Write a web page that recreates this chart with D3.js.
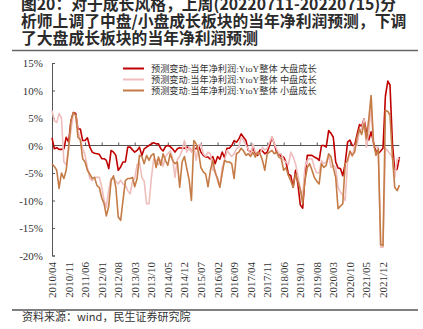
<!DOCTYPE html>
<html>
<head>
<meta charset="utf-8">
<script src="https://cdn.jsdelivr.net/npm/d3@7"></script>
<style>
  html, body { margin: 0; padding: 0; background: #fff; }
  svg { display: block; }
</style>
</head>
<body>
<svg id="chart" width="423" height="329"></svg>
<script>
// Monthly series, first point 2010/04
const startMonth = "2010/04";

const titleLines = [
  "图20：对于成长风格，上周(20220711-20220715)分",
  "析师上调了中盘/小盘成长板块的当年净利润预测，下调",
  "了大盘成长板块的当年净利润预测"
];

const seriesNames = [
  "预测变动:当年净利润:YtoY整体 大盘成长",
  "预测变动:当年净利润:YtoY整体 中盘成长",
  "预测变动:当年净利润:YtoY整体 小盘成长"
];

const largeCap = [
  1.4, -0.6, -0.4, -0.7, -0.7, -0.6, 1.5, 0.6, 4.5, 6.0, 5.8, 3.0, 3.0, 0.9, 0.9, 1.4,
  -0.3, -1.2, -1.4, -1.5, -1.6, -2.4, -2.4, -2.7, -4.2, -0.9, -1.2, -1.8, -4.5, -3.9, -3.0, -3.0,
  -0.3, -0.3, -0.8, -1.2, -0.9, -0.3, -1.8, -0.6, -0.3, 0.0, 0.3, 0.5, 0.3, 0.3, -0.6, -1.0,
  -0.2, 0.0, -0.2, -0.6, -1.2, -0.6, -0.4, -0.5, -0.5, -0.3, -0.4, -1.0, -0.5, -0.6, 0.0, -1.2,
  -1.8, -2.1, -2.1, -2.5, -2.0, -3.3, -2.0, -2.5, -1.2, -2.2, -0.5, -0.5, 0.0, 0.9, 0.6, 1.2,
  2.1, 1.5, 0.9, -0.9, -1.2, -0.5, -1.4, -1.8, -0.8, -1.0, -1.5, -1.2, 0.0, 1.5, 0.3, -1.2,
  -1.5, -2.0, -2.1, -3.0, -5.2, -5.5, -7.6, -4.5, -7.0, -10.8, -11.4, -6.0, -1.8, -1.8, -1.8, -2.1,
  -2.3, -2.7, 0.0, 0.0, -0.3, 2.7, 2.2, 1.5, -3.0, -4.1, -4.2, -5.5, -3.3, 0.6, 1.0, 0.0,
  0.0, 2.0, 3.8, 3.5, 4.8, 2.5, 1.0, 2.5, 0.5, -1.0, -1.5, -1.0, -0.5, 9.0, 11.7, 11.0,
  0.5, -4.5, -4.3, -2.1
];

const midCap = [
  6.4, 4.5, 4.2, 5.8, 5.0, -3.0, -3.5, -0.3, 2.7, 5.8, 5.5, 2.7, 1.0, -0.5, -1.8, -4.0,
  -6.0, -6.4, -5.8, -5.8, -5.8, -7.5, -10.0, -11.2, -8.0, -6.0, -6.0, -6.5, -7.0, -6.3, -7.0, -7.2,
  -8.2, -8.8, -6.5, -6.0, -3.5, -3.0, -5.8, -6.5, -10.6, -10.6, -6.0, -2.4, -2.7, -3.5, -2.6, -3.8,
  -2.0, -1.5, -1.0, -2.2, -5.8, -2.5, -2.0, -0.9, 0.9, -1.2, -0.3, -1.2, 0.0, -2.7, 0.0, 0.3,
  -1.5, -2.0, -1.2, -1.5, -4.5, -4.5, -6.5, -7.5, -4.0, -2.7, -0.9, -1.5, -2.0, -1.5, -0.6, -0.3,
  1.5, 0.9, 0.0, -0.6, -1.8, 0.3, -1.2, -1.5, -1.5, -0.3, -0.8, -0.5, 0.6, 1.5, 0.3, -0.6,
  -1.5, -1.5, -2.7, -3.0, -3.5, -1.2, -2.1, -3.3, -5.5, -8.0, -9.0, -4.0, -2.7, -2.4, -2.4, -4.0,
  -5.0, -5.0, -2.7, -3.3, -3.0, -1.8, -4.0, -3.6, -4.0, -7.6, -8.5, -9.0, -10.0, -3.0, -1.2, -2.0,
  0.0, 0.0, 2.7, 3.0, 4.8, -0.3, 2.4, 7.5, -0.3, -0.3, -0.3, -18.5, -18.5, -0.5, -1.0, -1.5,
  -2.1, -5.8, -2.5, -2.4
];

const smallCap = [
  -3.3, -3.8, -4.5, -7.8, -5.0, -6.0, -4.5, -0.5, 4.5, 6.0, 5.5, 1.5, 1.0, -2.4, -3.0, -4.5,
  -5.2, -6.0, -5.8, -7.3, -7.6, -9.5, -10.6, -12.8, -11.0, -6.4, -5.5, -7.6, -13.0, -13.6, -10.0, -6.4,
  -6.0, -6.0, -5.8, -7.5, -6.0, -1.8, -2.0, -3.3, -1.8, -2.7, -1.8, -1.5, -4.0, -2.1, -3.6, -1.5,
  -2.7, -3.6, -1.5, -2.7, -3.3, -3.0, -7.6, -3.0, -2.0, -4.2, -6.4, -10.0, 0.9, 0.3, -1.2, -4.0,
  -4.8, -5.2, -7.5, -4.5, -2.7, -5.0, -6.0, -7.6, -5.0, -2.7, -3.0, -3.0, -3.3, -6.0, -1.5, -1.2,
  -0.5, -1.0, -1.8, -1.5, -2.0, -1.2, -2.1, -1.2, -1.5, -2.7, -4.5, -1.5, -1.2, -0.9, -1.5, -1.2,
  -2.1, -2.4, -4.5, -4.0, -5.5, -6.4, -7.6, -5.2, -6.5, -8.0, -10.5, -6.5, -4.0, -3.3, -4.5, -5.8,
  -6.5, -7.0, -3.3, -4.0, -3.6, -1.5, -2.1, -4.0, -5.8, -11.5, -11.0, -10.6, -3.3, -2.7, -1.0, -1.8,
  -1.2, 1.5, 3.0, 2.0, 4.0, 1.2, 4.8, 9.1, 0.5, -1.8, -0.6, -18.0, -18.2, 6.4, 6.2, 5.5,
  -2.0, -7.6, -8.2, -7.2
];

const yTicks = [15, 10, 5, 0, -5, -10, -15, -20];
const xTickLabels = [
  "2010/04", "2010/11", "2011/06", "2012/01", "2012/08", "2013/03", "2013/10",
  "2014/05", "2014/12", "2015/07", "2016/02", "2016/09", "2017/04", "2017/11",
  "2018/06", "2019/01", "2019/08", "2020/03", "2020/10", "2021/05", "2021/12"
];

const sourceText = "资料来源：wind，民生证券研究院";

// ---- drawing ----
const svg = d3.select("#chart");
const parseMonth = d3.timeParse("%Y/%m");
const start = parseMonth(startMonth);
const months = d3.timeMonth.range(start, d3.timeMonth.offset(start, largeCap.length));

const colors = ["#C00000", "#F0BDBD", "#C47B45"];
const serif = "'Liberation Serif', 'Times New Roman', 'Noto Sans CJK SC', serif";
const cjk = "'Noto Sans CJK SC', sans-serif";

// title block (first line runs off the top edge)
svg.append("g").selectAll("text")
  .data(titleLines).join("text")
  .attr("x", 21)
  .attr("y", (d, i) => 10 + i * 17)
  .attr("font-family", cjk)
  .attr("font-weight", "bold")
  .attr("font-size", 15.8)
  .attr("fill", "#2b2b2b")
  .text(d => d);

svg.append("line")
  .attr("x1", 12).attr("x2", 418).attr("y1", 50.5).attr("y2", 50.5)
  .attr("stroke", "#666").attr("stroke-width", 1.5);

svg.append("line")
  .attr("x1", 12).attr("x2", 418).attr("y1", 310).attr("y2", 310)
  .attr("stroke", "#555").attr("stroke-width", 1.5);

svg.append("text")
  .attr("x", 22).attr("y", 321)
  .attr("font-family", cjk)
  .attr("font-size", 11)
  .attr("fill", "#333")
  .text(sourceText);

// scales
const x = d3.scaleTime()
  .domain([parseMonth(xTickLabels[0]), parseMonth(xTickLabels[xTickLabels.length - 1])])
  .range([52, 383]);
const y = d3.scaleLinear().domain([-20, 15]).range([255.5, 63]);

// y axis
const yAxis = svg.append("g")
  .attr("transform", "translate(52,0)")
  .call(d3.axisRight(y).tickValues(yTicks).tickSize(3).tickFormat(d => d + "%"));
yAxis.select(".domain").attr("stroke", "#555");
yAxis.selectAll(".tick line").attr("stroke", "#555");
yAxis.selectAll(".tick text")
  .attr("x", -9)
  .attr("text-anchor", "end")
  .attr("font-family", serif)
  .attr("font-size", 11)
  .attr("fill", "#333");

// zero line with month ticks
const xAxis = svg.append("g")
  .attr("transform", `translate(0,${y(0)})`)
  .call(d3.axisTop(x)
    .tickValues(xTickLabels.map(parseMonth))
    .tickSize(3)
    .tickSizeOuter(0)
    .tickFormat(""));
xAxis.select(".domain")
  .attr("d", `M${x.range()[0]},0H${x(months[months.length - 1])}`)
  .attr("stroke", "#555");
xAxis.selectAll(".tick line").attr("stroke", "#555");

// rotated date labels below plot
svg.append("g").selectAll("text")
  .data(xTickLabels).join("text")
  .attr("transform", d => `translate(${x(parseMonth(d)) + 4},262) rotate(-90)`)
  .attr("text-anchor", "end")
  .attr("font-family", serif)
  .attr("font-size", 11)
  .attr("fill", "#333")
  .text(d => d);

// series lines
const line = d3.line()
  .x((d, i) => x(months[i]))
  .y(d => y(d));

[largeCap, midCap, smallCap].forEach((s, k) => {
  svg.append("path")
    .datum(s)
    .attr("fill", "none")
    .attr("stroke", colors[k])
    .attr("stroke-width", 1.6)
    .attr("stroke-linejoin", "round")
    .attr("d", line);
});

// legend
const legend = svg.append("g");
seriesNames.forEach((name, k) => {
  const ly = 68.5 + k * 11;
  legend.append("line")
    .attr("x1", 123).attr("x2", 144).attr("y1", ly).attr("y2", ly)
    .attr("stroke", colors[k]).attr("stroke-width", 2);
  legend.append("text")
    .attr("x", 151).attr("y", ly + 3.5)
    .attr("font-family", serif)
    .attr("font-size", 9.2)
    .attr("fill", "#333")
    .text(name);
});
</script>
</body>
</html>
